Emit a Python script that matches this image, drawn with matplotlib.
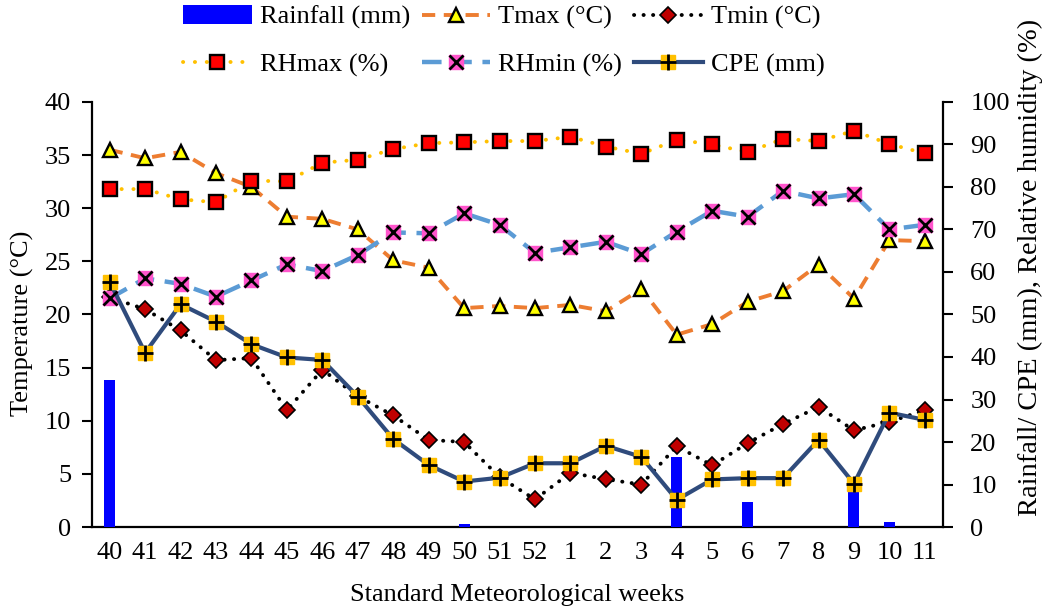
import numpy as np
import matplotlib
matplotlib.use("Agg")
import matplotlib.pyplot as plt
from matplotlib.legend_handler import HandlerTuple

# Standard meteorological weeks (week 40 of one year to week 11 of the next)
weeks = ["40", "41", "42", "43", "44", "45", "46", "47", "48", "49", "50", "51", "52",
         "1", "2", "3", "4", "5", "6", "7", "8", "9", "10", "11"]

# Weekly weather parameters
rainfall = [34.6, 0, 0, 0, 0, 0, 0, 0, 0, 0, 0.8, 0, 0,
            0, 0, 0, 16.5, 0, 5.8, 0, 0, 11.8, 1.3, 0]
tmax = [35.5, 34.7, 35.3, 33.3, 32.0, 29.2, 29.0, 28.0, 25.1, 24.4, 20.6, 20.8, 20.6,
        20.9, 20.3, 22.4, 18.1, 19.1, 21.2, 22.2, 24.7, 21.5, 27.0, 26.9]
tmin = [21.6, 20.5, 18.5, 15.7, 15.9, 11.0, 14.8, 12.3, 10.5, 8.2, 8.0, 4.7, 2.6,
        5.1, 4.5, 4.0, 7.6, 5.8, 7.9, 9.7, 11.3, 9.1, 9.9, 11.0]
rhmax = [79.5, 79.5, 77.1, 76.4, 81.5, 81.3, 85.7, 86.4, 88.9, 90.3, 90.5, 90.8, 90.8,
         91.8, 89.5, 87.8, 91.1, 90.0, 88.2, 91.3, 90.8, 93.2, 90.1, 87.9]
rhmin = [53.8, 58.5, 57.2, 54.2, 58.0, 61.8, 60.2, 64.0, 69.3, 69.1, 73.8, 71.1, 64.5,
         65.8, 67.1, 64.2, 69.5, 74.4, 73.0, 79.1, 77.3, 78.3, 70.0, 71.1]
cpe = [57.7, 41.0, 52.4, 48.3, 43.0, 39.9, 39.3, 30.7, 20.7, 14.6, 10.7, 11.6, 15.0,
       15.0, 19.1, 16.5, 6.4, 11.2, 11.5, 11.5, 20.5, 10.2, 26.9, 25.2]

plt.rcParams['font.family'] = ['Liberation Serif', 'DejaVu Serif']
FS = 19

fig = plt.figure(figsize=(10.45, 6.09), dpi=100)
ax = fig.add_axes([0.088, 0.1346, 0.814, 0.698])
ax2 = ax.twinx()
x = np.arange(len(weeks))

# Rainfall bars (right axis), kept behind the lines
bar = ax2.bar(x, rainfall, width=0.31, color='#0000FF', zorder=1)

# Temperatures on the left axis
l_tmax, = ax.plot(x, tmax, color='#ED7D31', lw=2.8, dashes=(3.4, 2.2),
                  marker='^', ms=10, mfc='#FFFF00', mec='black', mew=1.7, zorder=3)
l_tmin, = ax.plot(x, tmin, color='black', lw=2.8, dashes=(0.05, 2.4),
                  dash_capstyle='round', marker='D', ms=8, mfc='#C00000',
                  mec='black', mew=1.2, zorder=3)

# Humidity and pan evaporation on the right axis
l_rhmax, = ax2.plot(x, rhmax, color='#FFC000', lw=2.8, dashes=(0.05, 3.0),
                    dash_capstyle='round', marker='s', ms=10.5, mfc='#FF0000',
                    mec='black', mew=1.7, zorder=3)
l_rhmin, = ax2.plot(x, rhmin, color='#5B9BD5', lw=3.2, dashes=(4.4, 2.4),
                    marker='s', ms=9.5, mfc='#FF55CC', mec='#FF55CC', zorder=3)
m_rhmin, = ax2.plot(x, rhmin, ls='none', marker='x', ms=9.5, mec='black', mew=2.0, zorder=4)
l_cpe, = ax2.plot(x, cpe, color='#2F4B7C', lw=3.0, marker='s', ms=9.5,
                  mfc='#FFC000', mec='#FFC000', zorder=3)
m_cpe, = ax2.plot(x, cpe, ls='none', marker='+', ms=12, mec='black', mew=2.0, zorder=4)

ax.set_xlim(-0.5, len(weeks) - 0.5)
ax.set_ylim(0, 40)
ax2.set_ylim(0, 100)
ax.set_xticks(x)
ax.set_xticklabels(weeks)
ax.set_yticks(np.arange(0, 41, 5))
ax2.set_yticks(np.arange(0, 101, 10))

for a in (ax, ax2):
    a.spines['top'].set_visible(False)
    for s in a.spines.values():
        s.set_linewidth(1.6)
ax.spines['right'].set_visible(False)
ax2.spines['left'].set_visible(False)
ax2.spines['bottom'].set_visible(False)

ax.tick_params(axis='y', direction='out', length=7, width=1.5, pad=8, labelsize=FS)
ax.tick_params(axis='x', length=0, pad=11, labelsize=FS)
ax2.tick_params(axis='y', direction='out', length=7, width=1.5, pad=13, labelsize=FS)

ax.set_ylabel('Temperature (°C)', fontsize=FS)
ax.yaxis.set_label_coords(-0.068, 0.48)
ax2.set_ylabel('Rainfall/ CPE (mm), Relative humidity (%)', fontsize=20.5)
ax2.yaxis.set_label_coords(1.088, 0.61)
ax.set_xlabel('Standard Meteorological weeks', fontsize=FS, labelpad=14)

handles = [bar, l_rhmax, l_tmax, (l_rhmin, m_rhmin), l_tmin, (l_cpe, m_cpe)]
labels = ['Rainfall (mm)', 'RHmax (%)', 'Tmax (°C)', 'RHmin (%)', 'Tmin (°C)', 'CPE (mm)']
fig.legend(handles, labels, ncol=3, loc='upper center', bbox_to_anchor=(0.482, 1.03),
           frameon=False, fontsize=FS, handlelength=2.6, handletextpad=0.3,
           columnspacing=0.45, labelspacing=0.9,
           handler_map={tuple: HandlerTuple(ndivide=1, pad=0)})

fig.savefig('out.png', dpi=100)
